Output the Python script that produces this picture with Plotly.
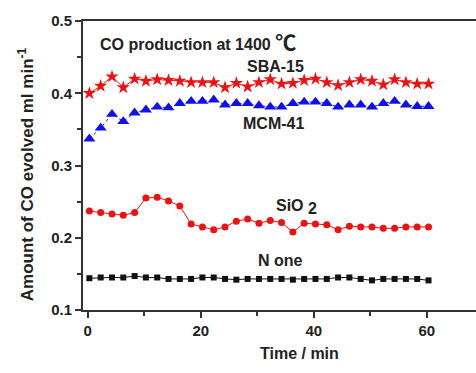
import plotly.graph_objects as go

# Sampling times (min)
time_min = [0.3 + 2 * k for k in range(31)]

# CO evolution rate (ml/min) for each support
sba15 = [0.400, 0.410, 0.423, 0.408, 0.420, 0.417, 0.419, 0.418, 0.417, 0.415,
         0.415, 0.415, 0.408, 0.414, 0.409, 0.415, 0.419, 0.413, 0.414, 0.418,
         0.420, 0.415, 0.411, 0.415, 0.419, 0.417, 0.412, 0.419, 0.415, 0.413, 0.413]
mcm41 = [0.337, 0.352, 0.371, 0.361, 0.373, 0.377, 0.381, 0.380, 0.386, 0.389,
         0.389, 0.391, 0.384, 0.386, 0.386, 0.383, 0.381, 0.381, 0.386, 0.388,
         0.388, 0.386, 0.381, 0.384, 0.384, 0.381, 0.386, 0.389, 0.384, 0.382, 0.382]
sio2 = [0.237, 0.235, 0.233, 0.231, 0.235, 0.255, 0.256, 0.251, 0.244, 0.219,
        0.215, 0.211, 0.215, 0.223, 0.226, 0.220, 0.224, 0.221, 0.208, 0.220,
        0.219, 0.218, 0.211, 0.216, 0.215, 0.215, 0.213, 0.213, 0.215, 0.215, 0.215]
none = [0.144, 0.145, 0.145, 0.145, 0.147, 0.145, 0.145, 0.143, 0.143, 0.143,
        0.145, 0.145, 0.143, 0.142, 0.143, 0.143, 0.143, 0.143, 0.142, 0.143,
        0.143, 0.143, 0.145, 0.145, 0.143, 0.141, 0.143, 0.143, 0.143, 0.143, 0.141]

y_ticks = [0.1, 0.2, 0.3, 0.4, 0.5]
x_ticks = [0, 20, 40, 60]

RED = "#ee1111"
BLUE = "#1010ee"
BLACK = "#111111"
AXIS = "#333333"
TEXT = "#222222"
FONT = "Liberation Sans, Arial, sans-serif"

fig = go.Figure()
fig.add_trace(go.Scatter(x=time_min, y=sba15, mode="lines+markers",
                         line=dict(color=RED, width=1),
                         marker=dict(symbol="star", size=10, color=RED)))
fig.add_trace(go.Scatter(x=time_min, y=mcm41, mode="lines+markers",
                         line=dict(color=BLUE, width=1, dash="dot"),
                         marker=dict(symbol="triangle-up", size=10.5, color=BLUE)))
fig.add_trace(go.Scatter(x=time_min, y=sio2, mode="lines+markers",
                         line=dict(color=RED, width=1),
                         marker=dict(symbol="circle", size=7, color=RED)))
fig.add_trace(go.Scatter(x=time_min, y=none, mode="lines+markers",
                         line=dict(color=BLACK, width=1),
                         marker=dict(symbol="square", size=6, color=BLACK)))

label_font = dict(family=FONT, size=16, color=TEXT)
annotations = [
    dict(x=1.8, y=0.473, xref="x", yref="y", xanchor="left", yanchor="middle",
         text="<b>CO production at 1400 </b><span style='font-family:Noto Sans CJK SC;font-size:21px;font-weight:bold'>℃</span>",
         showarrow=False, font=label_font),
    dict(x=33.2, y=0.437, xref="x", yref="y", text="<b>SBA-15</b>",
         showarrow=False, font=label_font),
    dict(x=32.8, y=0.358, xref="x", yref="y", text="<b>MCM-41</b>",
         showarrow=False, font=label_font),
    dict(x=37.0, y=0.243, xref="x", yref="y",
         text="<b>SiO<sub><span style='font-size:16px'> 2</span></sub></b>",
         showarrow=False, font=label_font),
    dict(x=34.1, y=0.169, xref="x", yref="y", text="<b>N one</b>",
         showarrow=False, font=label_font),
    dict(x=0.552, y=-0.187, xref="paper", yref="paper", text="<b>Time / min</b>",
         showarrow=False, font=label_font),
    dict(x=-0.178, y=0.47, xref="paper", yref="paper", textangle=-90,
         text="<b>Amount of CO evolved ml min<sup>-1</sup></b>",
         showarrow=False, font=dict(family=FONT, size=17, color=TEXT)),
]

tick_font = dict(family=FONT, size=15, color=TEXT, weight="bold")

fig.update_layout(
    width=476, height=373,
    margin=dict(l=83, r=0, t=21, b=63),
    paper_bgcolor="white", plot_bgcolor="white",
    showlegend=False,
    annotations=annotations,
    xaxis=dict(range=[-0.83, 68.7], tickvals=x_ticks, ticks="outside",
               ticklen=6, tickwidth=1.5, tickcolor=AXIS,
               showline=True, linecolor=AXIS, linewidth=2, mirror=True,
               showgrid=False, zeroline=False, tickfont=tick_font,
               minor=dict(dtick=10, tick0=0, ticks="outside", ticklen=4,
                          tickcolor=AXIS, tickwidth=1.5, showgrid=False)),
    yaxis=dict(range=[0.1, 0.5], tickvals=y_ticks, ticks="outside",
               ticklen=6, tickwidth=1.5, tickcolor=AXIS, tickformat=".1f",
               showline=True, linecolor=AXIS, linewidth=2,
               showgrid=False, zeroline=False, tickfont=tick_font,
               minor=dict(dtick=0.05, tick0=0.1, ticks="outside", ticklen=4,
                          tickcolor=AXIS, tickwidth=1.5, showgrid=False)),
)

fig.write_html("out.html")
